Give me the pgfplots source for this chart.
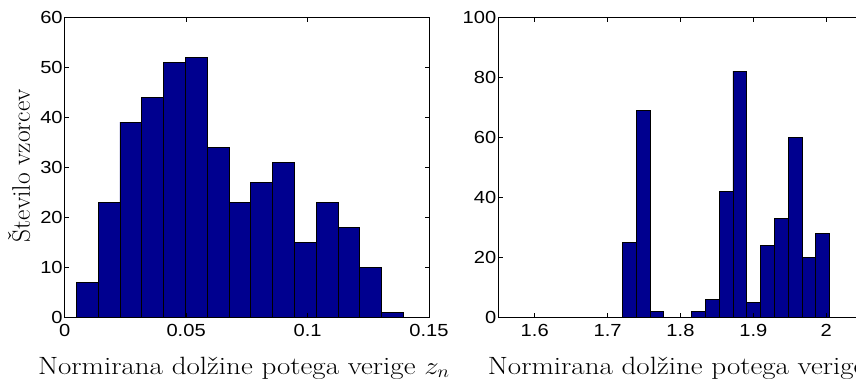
\documentclass[border=0pt]{standalone}
\usepackage{pgfplots}
\pgfplotsset{compat=1.18}
\usepackage{graphicx}
\usepackage{fontspec}
\newfontfamily\tickfont{Liberation Sans}
\definecolor{barblue}{RGB}{0,0,143}
% tick numbers and axis titles are set slightly wide, as in the plot's screen fonts
\newcommand{\hs}[1]{\scalebox{1.15}[1]{#1}}
\newcommand{\xl}{\scalebox{1.16}[1]{Normirana dolžine potega verige $z_n$}}

% Histogram of normalised chain-segment lengths, two sample sets
\pgfplotsset{
  histaxis/.style={
    scale only axis,
    width=364.3pt, height=299.7pt,
    anchor=south west,
    enlargelimits=false,
    ymin=0,
    axis on top,
    axis line style={line width=0.9pt},
    tick align=inside,
    major tick length=4.5pt,
    every tick/.style={black, line width=0.8pt},
    ticklabel style={font=\tickfont\fontsize{17.5}{18}\selectfont},
    xticklabel style={yshift=-4pt},
    yticklabel style={xshift=1.5pt},
    xlabel style={anchor=base, font=\fontsize{25}{28}\selectfont},
    ylabel style={anchor=base, font=\fontsize{25.4}{28}\selectfont},
  },
  histbars/.style={ybar interval, fill=barblue, draw=black, line width=0.7pt},
}

\begin{document}
\begin{tikzpicture}
\useasboundingbox (0,0) rectangle (856pt,378pt);

\begin{axis}[histaxis,
  at={(64.7pt,61pt)},
  xmin=0, xmax=0.15, ymax=60,
  xtick={0,0.05,0.1,0.15}, xticklabels={\hs{0},\hs{0.05},\hs{0.1},\hs{0.15}},
  ytick={0,10,20,30,40,50,60},
  yticklabels={\hs{0},\hs{10},\hs{20},\hs{30},\hs{40},\hs{50},\hs{60}},
  xlabel={\xl},
  xlabel style={at={(axis description cs:0.4918,-0.1902)}},
  ylabel={Število vzorcev},
  ylabel style={at={(axis description cs:-0.0953,0.505)}},
]
\addplot[histbars] coordinates {
  (0.004780,7) (0.013755,23) (0.022730,39) (0.031705,44) (0.040680,51)
  (0.049655,52) (0.058630,34) (0.067605,23) (0.076580,27) (0.085555,31)
  (0.094530,15) (0.103505,23) (0.112480,18) (0.121455,10) (0.130430,1)
  (0.139405,1)
};
\end{axis}

\begin{axis}[histaxis,
  at={(498.3pt,61pt)},
  xmin=1.55, xmax=2.05, ymax=100,
  xtick={1.6,1.7,1.8,1.9,2.0},
  xticklabels={\hs{1.6},\hs{1.7},\hs{1.8},\hs{1.9},\hs{2}},
  ytick={0,20,40,60,80,100},
  yticklabels={\hs{0},\hs{20},\hs{40},\hs{60},\hs{80},\hs{100}},
  xlabel={\xl},
  xlabel style={at={(axis description cs:0.5365,-0.1902)}},
]
\addplot[histbars] coordinates {
  (1.72030,25) (1.73926,69) (1.75822,2) (1.77718,0) (1.79614,0)
  (1.81510,2) (1.83406,6) (1.85302,42) (1.87198,82) (1.89094,5)
  (1.90990,24) (1.92886,33) (1.94782,60) (1.96678,20) (1.98574,28)
  (2.00470,28)
};
\end{axis}
\end{tikzpicture}
\end{document}
